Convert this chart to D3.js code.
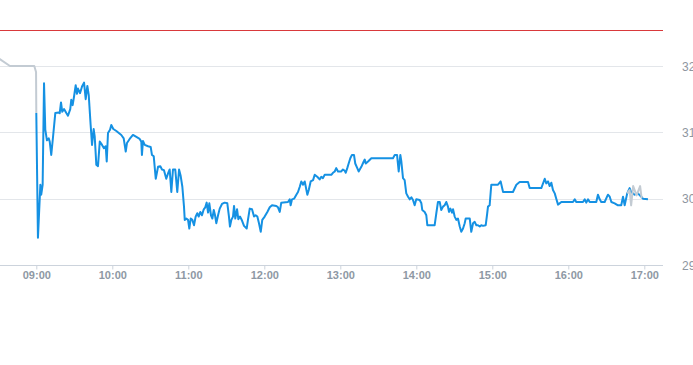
<!DOCTYPE html>
<html><head><meta charset="utf-8">
<script src="https://cdn.jsdelivr.net/npm/d3@7"></script>
<style>
html,body{margin:0;padding:0;background:#fff;overflow:hidden;}
svg{display:block;font-family:"Liberation Sans",Arial,sans-serif;}
</style></head>
<body>
<svg id="chart" width="693" height="365"></svg>
<script>
// ---- data (minutes after 09:00, price) ----
const sessionMinutes = [0,1.3,3.2,3.9,5.0,6.1,7.1,8.4,9.8,10.6,11.8,13.2,15.0,17.7,18.5,19.5,20.5,21.9,23.7,25.0,26.8,27.6,28.7,29.8,31.1,32.1,32.9,34.5,36.1,37.7,39.0,40.3,41.4,42.9,44.0,45.3,46.1,47.4,48.7,50.1,51.9,53.4,54.8,55.6,56.6,58.2,59.2,60.8,63.2,67.1,69.0,70.6,71.6,73.7,76.3,79.0,81.6,82.9,83.4,84.2,85.6,88.2,90.3,91.3,92.7,94.3,96.1,97.9,99.2,100.8,102.6,104.0,105.3,106.6,107.9,109.7,111.3,112.7,114.0,115.3,116.6,117.2,118.4,119.8,120.8,121.9,123.2,124.5,125.8,127.1,128.2,129.5,130.8,132.2,133.4,134.5,135.6,136.6,137.9,139.0,140.1,141.1,142.1,143.5,144.8,146.6,148.7,150.8,152.1,152.9,154.0,155.3,156.1,157.1,158.5,159.5,160.8,162.4,164.0,166.1,167.1,168.5,170.3,171.9,173.2,174.5,175.8,177.2,178.4,180.3,182.4,184.3,186.1,189.5,190.8,192.2,193.4,198.7,200.1,200.8,201.9,203.5,205.3,206.6,208.0,209.2,210.6,211.9,214.0,215.1,216.6,218.5,219.8,221.8,223.7,225.0,226.3,227.7,232.9,234.2,235.6,236.8,238.2,240.8,242.1,243.5,244.3,245.5,246.6,247.9,249.2,250.8,251.8,253.4,254.5,256.6,258.5,259.3,260.1,261.9,264.5,281.6,283.0,284.8,286.1,287.4,288.2,289.5,290.8,292.1,293.5,294.8,296.1,297.4,298.7,300.0,302.7,304.0,304.7,306.6,307.9,308.7,314.5,315.8,317.1,318.5,319.7,321.1,322.4,323.7,325.0,325.8,326.9,328.2,329.0,330.3,331.6,332.9,334.3,335.5,336.9,338.2,339.0,342.2,343.4,344.8,346.1,347.4,348.7,350.1,351.3,352.7,354.8,355.8,356.6,357.9,359.2,364.5,366.6,368.5,376.3,379.0,381.6,388.2,389.5,398.7,401.4,402.6,404.0,405.3,406.6,407.9,409.3,410.5,411.9,414.5,423.7,425.1,426.3,431.6,433.0,434.2,435.6,436.9,442.1,443.4,444.8,446.0,448.7,451.3,452.7,454.0,456.6,459.2,461.8,463.2,464.5,466.5,468.4,469.7,472.3,475.0,477.6,478.9,482.9];
const sessionPrices = [31.29,29.41,30.21,30.06,30.21,31.74,31.04,30.88,30.91,30.86,30.66,30.93,31.29,31.30,31.29,31.45,31.31,31.35,31.29,31.25,31.35,31.49,31.41,31.54,31.71,31.58,31.66,31.59,31.69,31.75,31.50,31.70,31.56,31.11,30.81,31.05,30.94,30.51,30.49,30.86,30.81,30.76,30.79,30.56,30.99,31.04,31.11,31.05,31.02,30.96,30.91,30.71,30.84,30.90,30.96,30.93,30.90,30.86,30.66,30.87,30.81,30.79,30.78,30.66,30.64,30.30,30.48,30.49,30.44,30.43,30.30,30.38,30.44,30.10,30.44,30.44,30.10,30.44,30.34,30.18,29.88,29.68,29.70,29.68,29.55,29.70,29.68,29.60,29.73,29.78,29.73,29.80,29.75,29.84,29.87,29.94,29.79,29.93,29.75,29.70,29.83,29.75,29.63,29.75,29.85,29.92,29.94,29.93,29.73,29.58,29.68,29.73,29.89,29.70,29.84,29.69,29.73,29.67,29.59,29.55,29.68,29.85,29.84,29.73,29.75,29.73,29.63,29.50,29.68,29.73,29.80,29.87,29.90,29.89,29.87,29.80,29.94,29.95,29.99,29.90,29.99,30.00,30.06,30.10,30.18,30.26,30.21,30.26,30.06,30.13,30.26,30.28,30.36,30.33,30.29,30.33,30.31,30.36,30.36,30.39,30.41,30.46,30.41,30.41,30.44,30.42,30.39,30.46,30.53,30.61,30.66,30.66,30.53,30.46,30.41,30.48,30.56,30.59,30.53,30.56,30.61,30.61,30.66,30.66,30.41,30.66,30.56,30.31,30.28,30.08,30.03,29.99,30.02,29.98,29.90,29.99,29.98,29.93,29.83,29.80,29.75,29.60,29.60,29.78,29.95,29.95,29.83,29.88,29.90,29.95,29.88,29.80,29.85,29.79,29.84,29.73,29.68,29.70,29.58,29.50,29.55,29.63,29.70,29.70,29.50,29.63,29.65,29.60,29.60,29.58,29.60,29.59,29.60,29.75,29.88,29.90,30.21,30.21,30.26,30.10,30.10,30.21,30.25,30.25,30.16,30.16,30.30,30.23,30.26,30.19,30.24,30.13,30.08,30.00,29.91,29.95,29.95,29.99,29.95,29.95,29.99,29.94,29.99,29.95,29.95,30.06,29.99,29.95,29.95,30.06,30.03,29.95,29.93,29.90,29.90,30.03,29.90,30.08,30.16,30.10,30.06,30.08,30.03,30.00,29.99];
const preMinutes = [-34,-20.8,-1.6,-0.2,0];
const prePrices = [32.17,32.00,32.00,31.91,31.29];
const postMinutes = [466.5,468.4,469.6,471.2,473.9,476.7,477.9];
const postPrices = [30.08,30.13,29.90,30.19,30.05,30.19,30.01];
const referenceLevel = 32.54;
const yTicks = [29,30,31,32];
const xTickLabels = ["09:00","10:00","11:00","12:00","13:00","14:00","15:00","16:00","17:00"];

// ---- chart ----
const svg = d3.select("#chart");
const plotLeft = 0, plotRight = 663, plotTop = 0, plotBottom = 265;
const base = new Date(2024,0,2,9,0,0);
const toDate = m => new Date(base.getTime() + m*60000);
const parseHM = d3.timeParse("%H:%M");
const tickDates = xTickLabels.map(s => { const t = parseHM(s); return new Date(2024,0,2,t.getHours(),t.getMinutes()); });

const x = d3.scaleTime().domain([tickDates[0], tickDates[tickDates.length-1]]).range([36.3, 644.3]);
const y = d3.scaleLinear().domain([29,32]).range([265,66]);

svg.append("defs").append("clipPath").attr("id","clip")
  .append("rect").attr("x",plotLeft).attr("y",plotTop).attr("width",plotRight-plotLeft).attr("height",plotBottom-plotTop);

// grid
svg.append("g").selectAll("line").data(yTicks.filter(v=>v!==29)).join("line")
  .attr("x1",plotLeft).attr("x2",plotRight)
  .attr("y1",d=>Math.round(y(d))+0.5).attr("y2",d=>Math.round(y(d))+0.5)
  .attr("stroke","#e3e6ea").attr("stroke-width",1);

// y labels (right)
svg.append("g").selectAll("text").data(yTicks).join("text")
  .attr("x",682).attr("y",d=>y(d)+4.5)
  .attr("fill","#8e96a0").attr("font-size","12px")
  .text(d=>d);

// x axis
const xAxis = d3.axisBottom(x).tickValues(tickDates).tickFormat(d3.timeFormat("%H:%M")).tickSize(4).tickSizeOuter(0);
const gx = svg.append("g").attr("transform",`translate(0,${plotBottom+0.5})`).call(xAxis);
gx.select(".domain").attr("d",`M${plotLeft},0H${plotRight}`).attr("stroke","#ccd3dc");
gx.selectAll(".tick line").attr("stroke","#ccd3dc");
gx.selectAll(".tick text").attr("fill","#8e98a4").attr("font-size","11px").attr("font-weight","bold")
  .attr("font-family","'Liberation Sans',Arial,sans-serif").attr("dy","0.3em").attr("y",10);

// reference line
svg.append("line").attr("x1",plotLeft).attr("x2",plotRight)
  .attr("y1",Math.round(y(referenceLevel))+0.5).attr("y2",Math.round(y(referenceLevel))+0.5)
  .attr("stroke","#d9393b").attr("stroke-width",1);

const line = d3.line().x(d=>x(toDate(d[0]))).y(d=>y(d[1]));
const g = svg.append("g").attr("clip-path","url(#clip)");
g.append("path").datum(d3.zip(preMinutes,prePrices)).attr("d",line)
  .attr("fill","none").attr("stroke","#c3cbd3").attr("stroke-width",2).attr("stroke-linejoin","round");
g.append("path").datum(d3.zip(sessionMinutes,sessionPrices)).attr("d",line)
  .attr("fill","none").attr("stroke","#1591e3").attr("stroke-width",2).attr("stroke-linejoin","round");
g.append("path").datum(d3.zip(postMinutes,postPrices)).attr("d",line)
  .attr("fill","none").attr("stroke","#c3cbd3").attr("stroke-width",2).attr("stroke-linejoin","round");
</script>
</body></html>
